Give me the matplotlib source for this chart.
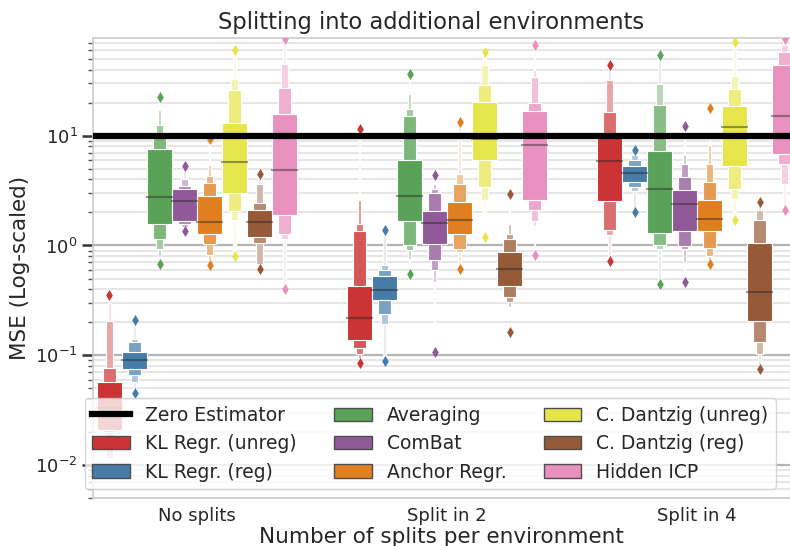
import numpy as np
import matplotlib
matplotlib.use("Agg")
import matplotlib.pyplot as plt
import seaborn as sns
from matplotlib.lines import Line2D
from matplotlib.patches import Patch

splits = ["No splits", "Split in 2", "Split in 4"]
methods = ["KL Regr. (unreg)", "KL Regr. (reg)", "Averaging", "ComBat",
           "Anchor Regr.", "C. Dantzig (unreg)", "C. Dantzig (reg)", "Hidden ICP"]
zero_estimator = 10.0

# letter values per split, quartile box first then outwards
kl_unreg_low = [[0.0209, 0.0200, 0.0116, 0.0095],
                [0.137, 0.116, 0.102, 0.095, 0.093, 0.091],
                [2.52, 1.37, 1.24, 0.785]]
kl_unreg_high = [[0.0575, 0.0762, 0.2065, 0.30],
                 [0.425, 1.35, 1.58, 2.58, 5.19, 10.4],
                 [10.6, 16.4, 32.0, 40.7]]
kl_unreg_med = [0.033, 0.219, 5.85]
kl_unreg_out = [[0.352], [11.6, 0.085], [43.8, 0.722]]

kl_reg_low = [[0.0755, 0.0658, 0.0571, 0.0497],
              [0.317, 0.239, 0.191, 0.100],
              [3.79, 3.41, 3.14, 2.16]]
kl_reg_high = [[0.107, 0.132, 0.1416, 0.194],
               [0.524, 0.603, 0.661, 1.28],
               [5.30, 5.97, 6.63, 6.86]]
kl_reg_med = [0.0912, 0.391, 4.57]
kl_reg_out = [[0.208, 0.0454], [1.37, 0.0887], [7.36, 2.02]]

avg_low = [[1.58, 1.14, 0.923, 0.785, 0.75],
           [1.66, 1.0, 0.904, 0.75, 0.637],
           [1.31, 1.0, 0.935, 0.482]]
avg_high = [[7.62, 10.4, 12.4, 17.3, 20.3],
            [6.04, 15.1, 17.6, 24.1, 34.3],
            [7.21, 18.9, 29.8, 50.2]]
avg_med = [2.77, 2.82, 3.29]
avg_out = [[22.5, 0.683], [36.7, 0.553], [54.0, 0.443]]

combat_low = [[1.66, 1.58, 1.47, 1.40],
              [1.04, 0.733, 0.603, 0.466, 0.194],
              [1.36, 0.99, 0.923, 0.70, 0.516]]
combat_high = [[3.25, 3.46, 4.06, 5.0],
               [2.06, 3.0, 3.29, 3.66, 4.06],
               [3.22, 4.21, 5.56, 6.62, 11.2]]
combat_med = [2.54, 1.61, 2.41]
combat_out = [[5.27, 1.35], [4.36, 0.107], [12.2, 0.466]]

anchor_low = [[1.28, 1.04, 0.815, 0.733, 0.70],
              [1.28, 0.935, 0.873, 0.683],
              [1.35, 0.955, 0.797, 0.733, 0.70]]
anchor_high = [[2.80, 3.73, 4.27, 5.37, 8.77],
               [2.49, 3.66, 4.51, 12.4],
               [2.61, 3.79, 5.5, 8.18, 16.4]]
anchor_med = [1.64, 1.72, 1.75]
anchor_out = [[9.4, 0.668], [13.3, 0.607], [17.9, 0.683]]

cd_unreg_low = [[3.0, 2.06, 1.72, 0.84],
                [5.97, 3.41, 2.58, 1.95],
                [5.26, 3.29, 2.64, 1.88]]
cd_unreg_high = [[13.0, 25.9, 33.0, 55.8],
                 [20.3, 28.8, 43.8, 54.0],
                 [18.5, 26.8, 34.8, 66.5]]
cd_unreg_med = [5.76, 9.27, 12.0]
cd_unreg_out = [[60.0, 0.797], [57.8, 1.19], [71.3, 1.72]]

cd_reg_low = [[1.19, 1.05, 0.683, 0.65],
              [0.425, 0.340, 0.306, 0.275, 0.239],
              [0.205, 0.132, 0.1035, 0.081]]
cd_reg_high = [[2.12, 2.45, 3.66, 4.3],
               [0.873, 1.15, 1.28, 1.58, 2.67],
               [1.05, 1.72, 2.10, 2.32]]
cd_reg_med = [1.64, 0.615, 0.377]
cd_reg_out = [[4.45, 0.615], [2.92, 0.163], [2.49, 0.0755]]

hicp_low = [[1.88, 1.28, 1.15, 0.449],
            [2.58, 2.12, 1.67, 1.5, 0.873],
            [6.78, 5.56, 3.66, 2.24]]
hicp_high = [[15.9, 27.4, 45.3, 74.0],
             [16.8, 19.9, 34.3, 39.5, 62.0],
             [43.8, 57.8, 67.0, 74.0]]
hicp_med = [4.84, 8.18, 15.0]
hicp_out = [[76.0, 0.405], [66.5, 0.815], [76.0, 2.12]]

all_low = [kl_unreg_low, kl_reg_low, avg_low, combat_low, anchor_low,
           cd_unreg_low, cd_reg_low, hicp_low]
all_high = [kl_unreg_high, kl_reg_high, avg_high, combat_high, anchor_high,
            cd_unreg_high, cd_reg_high, hicp_high]
all_med = [kl_unreg_med, kl_reg_med, avg_med, combat_med, anchor_med,
           cd_unreg_med, cd_reg_med, hicp_med]
all_out = [kl_unreg_out, kl_reg_out, avg_out, combat_out, anchor_out,
           cd_unreg_out, cd_reg_out, hicp_out]

colors = sns.color_palette("Set1", 8, desat=0.75)
text_col = "#262626"
plt.rcParams['font.family'] = ['DejaVu Sans']

fig = plt.figure(figsize=(7.9, 5.46), dpi=100)
ax = fig.add_axes([93 / 790, (546 - 498.3) / 546, 697 / 790, 460.6 / 546])
ax.set_yscale('log')

n_hue = len(methods)
group_w = 0.8
box_w = group_w / n_hue * 0.98

for m in range(n_hue):
    c = np.array(colors[m])
    light = c * 0.15 + 0.85
    for s in range(len(splits)):
        x = s - group_w / 2 + group_w / n_hue * (m + 0.5)
        lows = all_low[m][s]
        highs = all_high[m][s]
        n = len(lows)
        # outermost first, so the quartile box ends up on top
        for j in reversed(range(n)):
            t = j / (n - 1)
            col = c + t * (light - c)
            w = box_w * 2.0 ** (-j)
            ax.bar(x, highs[j] - lows[j], width=w, bottom=lows[j], color=col,
                   edgecolor='white', linewidth=0.8, zorder=2)
        ax.plot([x - box_w / 2, x + box_w / 2], [all_med[m][s]] * 2,
                color='.15', alpha=.45, lw=1.5, zorder=3)
        outs = all_out[m][s]
        ax.scatter([x] * len(outs), outs, marker='d', color=c, s=32,
                   zorder=3, linewidths=0)

ax.axhline(zero_estimator, color='black', lw=4.5, zorder=4)

ax.set_xlim(-0.416, 2.372)
ax.set_ylim(0.00498, 78.1)
ax.set_xticks(range(len(splits)))
ax.set_xticklabels(splits, fontsize=13, color=text_col)
ax.tick_params(axis='x', length=0, pad=6)
ax.tick_params(axis='y', which='major', length=8, width=1.8, color='#333333',
               labelsize=13, labelcolor=text_col, pad=3)
ax.tick_params(axis='y', which='minor', length=3.5, width=1, color='#555555')

ax.set_axisbelow(True)
ax.grid(True, which='major', axis='y', color='#b3b3b3', lw=1.6)
ax.grid(True, which='minor', axis='y', color='#e6e6e6', lw=1.4)
ax.grid(False, axis='x')
for side in ['left', 'bottom', 'top']:
    ax.spines[side].set_color('#cccccc')
    ax.spines[side].set_linewidth(1.2)
ax.spines['right'].set_visible(False)

ax.set_ylabel('MSE (Log-scaled)', fontsize=15.5, color=text_col)
ax.set_xlabel('Number of splits per environment', fontsize=15.5, color=text_col, labelpad=2)
ax.set_title('Splitting into additional environments', fontsize=16.3,
             color=text_col, x=0.485)

handles = [Line2D([0], [0], color='black', lw=4.5)]
for m in range(n_hue):
    handles.append(Patch(facecolor=colors[m], edgecolor='#4d4d4d', lw=1))
labels = ['Zero Estimator'] + methods
leg = ax.legend(handles, labels, ncol=3, loc='upper left',
                bbox_to_anchor=(-0.0115, 0.2172), borderaxespad=0,
                fontsize=13.5, labelspacing=0.5, columnspacing=2.0,
                framealpha=0.8, edgecolor='#cccccc')
for t in leg.get_texts():
    t.set_color(text_col)

fig.savefig('out.png', dpi=100)
